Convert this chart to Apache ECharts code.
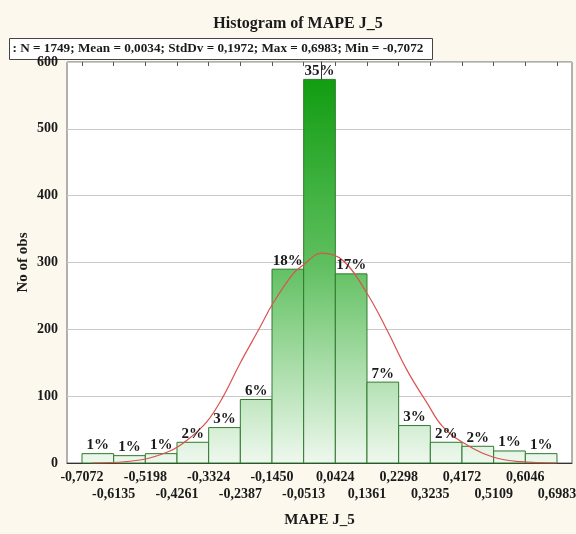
<!DOCTYPE html>
<html>
<head>
<meta charset="utf-8">
<script src="https://cdn.jsdelivr.net/npm/echarts@6/dist/echarts.min.js"></script>
<style>
  html, body { margin: 0; padding: 0; background: #fcf8ee; }
  #chart { width: 576px; height: 534px; }
</style>
</head>
<body>
<div id="chart"></div>
<script>
// bin edges of the histogram
const edges = [-0.7072, -0.6135, -0.5198, -0.4261, -0.3324, -0.2387, -0.1450, -0.0513,
  0.0424, 0.1361, 0.2298, 0.3235, 0.4172, 0.5109, 0.6046, 0.6983]
// observations per bin
const counts = [14, 11, 14, 31, 53, 95, 290, 574, 283, 121, 56, 31, 25, 18, 14]
const pctLabels = ['1%', '1%', '1%', '2%', '3%', '6%', '18%', '35%', '17%', '7%', '3%', '2%', '2%', '1%', '1%']
// fitted normal curve
const curveX = [-0.6776, -0.5356, -0.4468, -0.3965, -0.3374, -0.2900, -0.2397, -0.1806, -0.1421,
  -0.0829, -0.0533, 0.0030, 0.0650, 0.1360, 0.1952, 0.2544, 0.3136, 0.3609, 0.4319, 0.5088, 0.5887, 0.6982]
const curveY = [0, 4.5, 18, 34, 62, 99, 149, 203, 239, 283, 296, 314, 303, 254, 199, 139, 90, 54, 27, 9, 2, 0]

const titleText = 'Histogram of MAPE J_5'
const statsText = ': N = 1749; Mean = 0,0034; StdDv = 0,1972; Max = 0,6983; Min = -0,7072'

const FONT = 'Liberation Serif'
const pad = 0.0444
const fmt = v => v.toFixed(4).replace('.', ',')
// edge labels are staggered on two rows
const evenEdges = edges.filter((e, i) => i % 2 === 0)
const oddEdges = edges.filter((e, i) => i % 2 === 1)

const chart = echarts.init(document.getElementById('chart'))

const binData = counts.map((c, i) => [edges[i], edges[i + 1], c])

const labelStyle = { fontFamily: FONT, fontWeight: 'bold', fontSize: 14, color: '#1a1a1a' }
const xMin = edges[0] - pad
const xMax = edges[edges.length - 1] + pad

const option = {
  backgroundColor: '#fcf8ee',
  animation: false,
  title: {
    text: titleText,
    left: 293,
    textAlign: 'center',
    top: 11,
    textStyle: { fontFamily: FONT, fontWeight: 'bold', fontSize: 16, color: '#1a1a1a' }
  },
  grid: {
    left: 67, right: 4, top: 62, bottom: 71,
    outerBoundsMode: 'none',
    show: true, backgroundColor: '#ffffff', borderColor: '#666', borderWidth: 1
  },
  xAxis: [
    {
      type: 'value',
      min: xMin,
      max: xMax,
      name: 'MAPE J_5',
      nameLocation: 'middle',
      nameGap: 50,
      nameMoveOverlap: false,
      nameTextStyle: { fontFamily: FONT, fontWeight: 'bold', fontSize: 15, color: '#1a1a1a' },
      axisLine: { show: true, lineStyle: { color: '#333' } },
      axisTick: { show: false },
      splitLine: { show: false },
      axisLabel: {
        customValues: evenEdges,
        showMinLabel: true,
        showMaxLabel: true,
        margin: 7,
        ...labelStyle,
        formatter: v => fmt(v)
      }
    },
    {
      type: 'value',
      position: 'top',
      min: xMin,
      max: xMax,
      axisLine: { show: false },
      axisLabel: { show: false },
      splitLine: { show: false },
      axisTick: { show: true, inside: true, length: 4, customValues: edges, lineStyle: { color: '#555' } }
    },
    {
      type: 'value',
      position: 'bottom',
      offset: 17,
      min: xMin,
      max: xMax,
      axisLine: { show: false },
      axisTick: { show: false },
      splitLine: { show: false },
      axisLabel: {
        customValues: oddEdges,
        showMinLabel: true,
        showMaxLabel: true,
        margin: 7,
        ...labelStyle,
        formatter: v => fmt(v)
      }
    }
  ],
  yAxis: {
    type: 'value',
    min: 0, max: 600, interval: 100,
    name: 'No of obs',
    nameLocation: 'middle',
    nameGap: 36,
    nameMoveOverlap: false,
    nameRotate: 90,
    nameTextStyle: { fontFamily: FONT, fontWeight: 'bold', fontSize: 15, color: '#1a1a1a' },
    axisLine: { show: true, lineStyle: { color: '#333' } },
    axisTick: { show: false },
    axisLabel: { margin: 9, ...labelStyle },
    splitLine: { lineStyle: { color: '#c8c8c8' } }
  },
  series: [
    {
      type: 'custom',
      z: 2,
      data: binData,
      encode: { x: [0, 1], y: 2 },
      renderItem: (params, api) => {
        const p0 = api.coord([api.value(0), api.value(2)])
        const p1 = api.coord([api.value(1), 0])
        const top = api.coord([0, 600])[1]
        const bottom = api.coord([0, 0])[1]
        return {
          type: 'rect',
          shape: { x: p0[0], y: p0[1], width: p1[0] - p0[0], height: p1[1] - p0[1] },
          style: {
            fill: new echarts.graphic.LinearGradient(0, top, 0, bottom, [
              { offset: 0, color: '#0a9a0a' },
              { offset: 0.5, color: '#5ebf5e' },
              { offset: 1, color: '#eef8ee' }
            ], true),
            stroke: '#2f7a2f',
            lineWidth: 1
          }
        }
      }
    },
    {
      type: 'line',
      z: 3,
      data: curveX.map((x, i) => [x, curveY[i]]),
      smooth: 0.4,
      showSymbol: false,
      lineStyle: { color: '#d9534f', width: 1.2 }
    },
    {
      type: 'custom',
      z: 4,
      data: binData,
      encode: { x: [0, 1], y: 2 },
      renderItem: (params, api) => {
        const p = api.coord([(api.value(0) + api.value(1)) / 2, api.value(2)])
        return {
          type: 'text',
          x: p[0],
          y: p[1] - 1,
          style: {
            text: pctLabels[params.dataIndex],
            align: 'center',
            verticalAlign: 'bottom',
            fontFamily: FONT, fontWeight: 'bold', fontSize: 15, fill: '#1a1a1a'
          }
        }
      }
    }
  ],
  graphic: [
    {
      type: 'group',
      left: 9,
      top: 38,
      z: 100,
      children: [
        {
          type: 'rect',
          shape: { x: 0, y: 0, width: 423, height: 21 },
          style: { fill: '#ffffff', stroke: '#444', lineWidth: 1 }
        },
        {
          type: 'text',
          x: 3,
          y: 10.5,
          style: {
            text: statsText,
            verticalAlign: 'middle',
            fontFamily: FONT, fontWeight: 'bold', fontSize: 13.2, fill: '#1a1a1a'
          }
        }
      ]
    }
  ]
}

chart.setOption(option)
</script>
</body>
</html>
